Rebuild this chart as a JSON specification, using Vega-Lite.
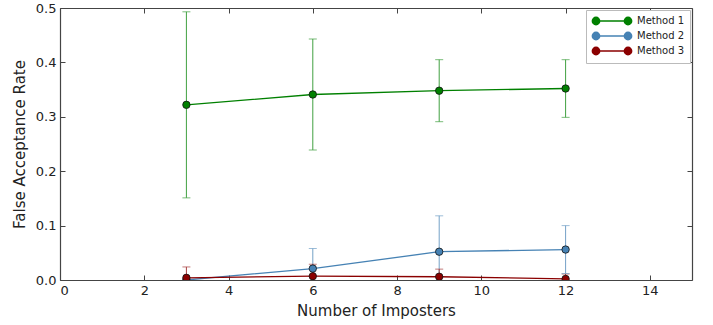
{
  "$schema": "https://vega.github.io/schema/vega-lite/v6.json",
  "autosize": "none",
  "width": 632,
  "height": 272,
  "padding": {"left": 60, "top": 8, "right": 21, "bottom": 45},
  "background": "white",
  "config": {
    "font": "DejaVu Sans",
    "view": {"stroke": null},
    "axis": {
      "grid": false,
      "domainColor": "#444",
      "domainWidth": 1.2,
      "tickColor": "#444",
      "tickSize": -5,
      "labelFont": "DejaVu Sans",
      "labelFontSize": 13,
      "labelColor": "#222",
      "titleFont": "DejaVu Sans",
      "titleFontSize": 15,
      "titleFontWeight": "normal",
      "titleColor": "#222"
    }
  },
  "data": {
    "values": [
      {"method": "Method 1", "x": 3, "y": 0.322, "lo": 0.151, "hi": 0.493},
      {"method": "Method 1", "x": 6, "y": 0.341, "lo": 0.239, "hi": 0.443},
      {"method": "Method 1", "x": 9, "y": 0.348, "lo": 0.291, "hi": 0.405},
      {"method": "Method 1", "x": 12, "y": 0.352, "lo": 0.299, "hi": 0.405},
      {"method": "Method 2", "x": 3, "y": 0.0, "lo": -0.01, "hi": 0.0},
      {"method": "Method 2", "x": 6, "y": 0.021, "lo": -0.016, "hi": 0.058},
      {"method": "Method 2", "x": 9, "y": 0.052, "lo": -0.014, "hi": 0.118},
      {"method": "Method 2", "x": 12, "y": 0.056, "lo": 0.012, "hi": 0.1},
      {"method": "Method 3", "x": 3, "y": 0.004, "lo": -0.016, "hi": 0.024},
      {"method": "Method 3", "x": 6, "y": 0.007, "lo": -0.015, "hi": 0.029},
      {"method": "Method 3", "x": 9, "y": 0.006, "lo": -0.008, "hi": 0.02},
      {"method": "Method 3", "x": 12, "y": 0.002, "lo": -0.007, "hi": 0.011}
    ]
  },
  "resolve": {"axis": {"x": "independent", "y": "independent"}, "scale": {"color": "independent"}},
  "layer": [
    {
      "mark": {"type": "line", "clip": true, "strokeWidth": 1.3},
      "encoding": {
        "x": {"field": "x", "type": "quantitative", "scale": {"domain": [0, 15], "nice": false},
              "axis": {"title": "Number of Imposters", "values": [0, 2, 4, 6, 8, 10, 12, 14], "labelPadding": 9, "titlePadding": 6}},
        "y": {"field": "y", "type": "quantitative", "scale": {"domain": [0, 0.5], "nice": false},
              "axis": {"title": "False Acceptance Rate", "values": [0, 0.1, 0.2, 0.3, 0.4, 0.5], "format": ".1f", "labelPadding": 9, "titlePadding": 8}},
        "color": {"field": "method", "type": "nominal", "scale": {"domain": ["Method 1", "Method 2", "Method 3"], "range": ["#008000", "#4682b4", "#8b0000"]},
                  "legend": {
                    "title": null,
                    "orient": "top-right",
                    "offset": 2,
                    "padding": 5,
                    "fillColor": "white",
                    "strokeColor": "#bbb",
                    "labelFont": "DejaVu Sans",
                    "labelFontSize": 10,
                    "labelColor": "#222",
                    "labelOffset": 34,
                    "symbolType": "M-0.2,0H6.2M-0.95,0a0.75,0.75 0 1,0 1.5,0a0.75,0.75 0 1,0 -1.5,0M-0.75,0a0.55,0.55 0 1,0 1.1,0a0.55,0.55 0 1,0 -1.1,0M-0.55,0a0.35,0.35 0 1,0 0.7,0a0.35,0.35 0 1,0 -0.7,0M-0.35,0a0.15,0.15 0 1,0 0.3,0a0.15,0.15 0 1,0 -0.3,0M5.45,0a0.75,0.75 0 1,0 1.5,0a0.75,0.75 0 1,0 -1.5,0M5.65,0a0.55,0.55 0 1,0 1.1,0a0.55,0.55 0 1,0 -1.1,0M5.85,0a0.35,0.35 0 1,0 0.7,0a0.35,0.35 0 1,0 -0.7,0M6.05,0a0.15,0.15 0 1,0 0.3,0a0.15,0.15 0 1,0 -0.3,0",
                    "symbolSize": 100,
                    "symbolStrokeWidth": 1.3,
                    "symbolOpacity": 1,
                    "rowPadding": 1
                  }}
      }
    },
    {
      "mark": {"type": "rule", "clip": true, "strokeWidth": 1},
      "encoding": {
        "x": {"field": "x", "type": "quantitative", "axis": {"orient": "top", "labels": false, "title": null, "values": [0, 2, 4, 6, 8, 10, 12, 14]}},
        "y": {"field": "lo", "type": "quantitative", "axis": {"orient": "right", "labels": false, "title": null, "values": [0, 0.1, 0.2, 0.3, 0.4, 0.5]}},
        "y2": {"field": "hi"},
        "color": {"field": "method", "type": "nominal", "scale": {"domain": ["Method 1", "Method 2", "Method 3"], "range": ["#40a040", "#74a1c7", "#a84040"]}, "legend": null}
      }
    },
    {
      "mark": {"type": "tick", "orient": "horizontal", "clip": true, "size": 8, "thickness": 1},
      "encoding": {
        "x": {"field": "x", "type": "quantitative", "axis": null},
        "y": {"field": "hi", "type": "quantitative", "axis": null},
        "color": {"field": "method", "type": "nominal", "scale": {"domain": ["Method 1", "Method 2", "Method 3"], "range": ["#40a040", "#74a1c7", "#a84040"]}, "legend": null}
      }
    },
    {
      "mark": {"type": "tick", "orient": "horizontal", "clip": true, "size": 8, "thickness": 1},
      "encoding": {
        "x": {"field": "x", "type": "quantitative", "axis": null},
        "y": {"field": "lo", "type": "quantitative", "axis": null},
        "color": {"field": "method", "type": "nominal", "scale": {"domain": ["Method 1", "Method 2", "Method 3"], "range": ["#40a040", "#74a1c7", "#a84040"]}, "legend": null}
      }
    },
    {
      "mark": {"type": "point", "filled": true, "clip": true, "size": 55, "stroke": "#111", "strokeWidth": 0.8, "opacity": 1},
      "encoding": {
        "x": {"field": "x", "type": "quantitative", "axis": null},
        "y": {"field": "y", "type": "quantitative", "axis": null},
        "color": {"field": "method", "type": "nominal", "scale": {"domain": ["Method 1", "Method 2", "Method 3"], "range": ["#008000", "#4682b4", "#8b0000"]}, "legend": null}
      }
    }
  ]
}
